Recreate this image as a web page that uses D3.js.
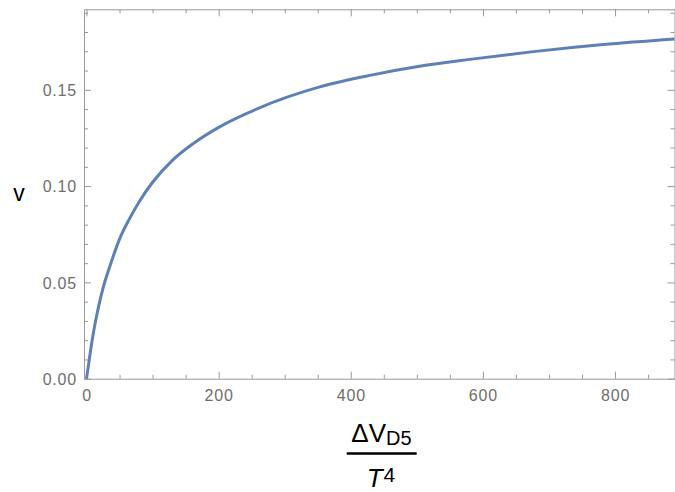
<!DOCTYPE html>
<html>
<head>
<meta charset="utf-8">
<script src="https://cdn.jsdelivr.net/npm/d3@7"></script>
<style>
  body { margin: 0; background: #fff; }
  svg { display: block; }
  .frame line, .frame path { stroke: #999; }
  .frame text { fill: #6e6e6e; font-family: "Liberation Sans", Arial, sans-serif; font-size: 16px; letter-spacing: 0.8px; }
</style>
</head>
<body>
<div id="chart"></div>
<script>
// data
var xVals = [0, 5, 10, 18, 25, 35, 50, 65, 80, 100, 130, 162, 200, 260, 353, 429, 504, 580, 673, 782, 890];
var vVals = [0, 0.012, 0.023, 0.037, 0.047, 0.058, 0.0725, 0.083, 0.092, 0.102, 0.1134, 0.1222, 0.1305, 0.1404, 0.1515, 0.1575, 0.1622, 0.1658, 0.1697, 0.1735, 0.1764];
var xTicks = [0, 200, 400, 600, 800];
var xMinor = [50, 100, 150, 250, 300, 350, 450, 500, 550, 650, 700, 750, 850];
var yTicks = [0, 0.05, 0.1, 0.15];
var yTickLabels = ["0.00", "0.05", "0.10", "0.15"];
var yMinor = [0.01, 0.02, 0.03, 0.04, 0.06, 0.07, 0.08, 0.09, 0.11, 0.12, 0.13, 0.14, 0.16, 0.17, 0.18, 0.19];

var W = 675, H = 492;
var margin = { top: 9.3, right: 0.5, bottom: 113.3, left: 84 };
var width = W - margin.left - margin.right,
  height = H - margin.top - margin.bottom;

var svg = d3
  .select("#chart")
  .append("svg")
  .attr("width", W)
  .attr("height", H)
  .append("g")
  .attr("transform", "translate(" + margin.left + "," + margin.top + ")");

var x = d3.scaleLinear().domain([-3.8, 890]).range([0, width]);
var y = d3.scaleLinear().domain([0, 0.1918]).range([height, 0]);

// frame: bottom, top, left, right (ticks point inward)
var bottomAx = svg.append("g").attr("class", "frame").attr("transform", "translate(0," + height + ")");
bottomAx.call(d3.axisBottom(x).tickValues(xTicks).tickSize(-7).tickPadding(11).tickSizeOuter(0));
bottomAx.append("g").call(d3.axisBottom(x).tickValues(xMinor).tickSize(-4).tickFormat("")).call((g) => g.select(".domain").remove());

var topAx = svg.append("g").attr("class", "frame");
topAx.call(d3.axisTop(x).tickValues(xTicks).tickSize(-7).tickFormat("").tickSizeOuter(0));
topAx.append("g").call(d3.axisTop(x).tickValues(xMinor).tickSize(-4).tickFormat("")).call((g) => g.select(".domain").remove());

var leftAx = svg.append("g").attr("class", "frame");
leftAx.call(d3.axisLeft(y).tickValues(yTicks).tickSize(-7).tickPadding(7).tickSizeOuter(0)
  .tickFormat((d, i) => yTickLabels[i]));
leftAx.append("g").call(d3.axisLeft(y).tickValues(yMinor).tickSize(-4).tickFormat("")).call((g) => g.select(".domain").remove());

var rightAx = svg.append("g").attr("class", "frame").attr("transform", "translate(" + width + ",0)");
rightAx.call(d3.axisRight(y).tickValues(yTicks).tickSize(-7).tickFormat("").tickSizeOuter(0));
rightAx.append("g").call(d3.axisRight(y).tickValues(yMinor).tickSize(-4).tickFormat("")).call((g) => g.select(".domain").remove());

leftAx.selectAll(".tick text").attr("dy", "0.36em");
bottomAx.selectAll(".tick text").attr("dy", "0.71em");

// curve
var pts = xVals.map((d, i) => [d, vVals[i]]);
svg
  .append("path")
  .datum(pts)
  .attr("fill", "none")
  .attr("stroke", "#5e81b5")
  .attr("stroke-width", 3)
  .attr("stroke-linejoin", "round")
  .attr(
    "d",
    d3
      .line()
      .x((d) => x(d[0]))
      .y((d) => y(d[1]))
      .curve(d3.curveMonotoneX)
  );

// axis labels
var root = d3.select("#chart svg");
root
  .append("text")
  .attr("x", 19)
  .attr("y", 201)
  .attr("text-anchor", "middle")
  .attr("font-family", "Liberation Sans, Arial, sans-serif")
  .attr("font-size", 23)
  .text("v");

var lab = root.append("g").attr("font-family", "Liberation Sans, Arial, sans-serif");
var num = lab
  .append("text")
  .attr("x", 381.5)
  .attr("y", 441.5)
  .attr("text-anchor", "middle")
  .attr("font-size", 26);
num.append("tspan").text("ΔV");
num.append("tspan").attr("font-size", 20).attr("dy", 3.5).text("D5");

lab
  .append("line")
  .attr("x1", 346.7)
  .attr("x2", 416.7)
  .attr("y1", 453.5)
  .attr("y2", 453.5)
  .attr("stroke", "#000")
  .attr("stroke-width", 2.5);

var den = lab
  .append("text")
  .attr("x", 381)
  .attr("y", 487)
  .attr("text-anchor", "middle")
  .attr("font-size", 26);
den.append("tspan").attr("font-style", "italic").text("T");
den.append("tspan").attr("font-size", 21).attr("dx", 1).attr("dy", -5).text("4");
</script>
</body>
</html>
